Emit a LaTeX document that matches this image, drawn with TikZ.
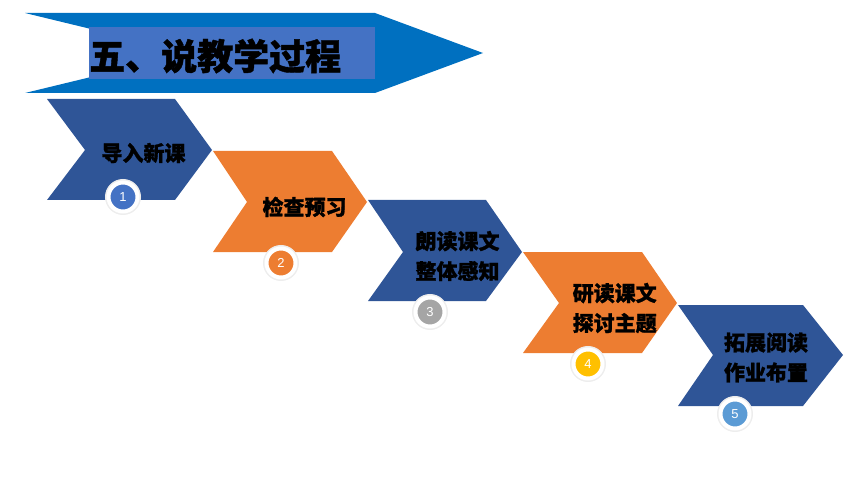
\documentclass[tikz,border=0pt]{standalone}
\usepackage{fontspec}
\newfontfamily\cjk{Noto Sans CJK SC}[BoldFeatures={FakeBold=1.2}]
\setsansfont{Liberation Sans}
\definecolor{banner}{HTML}{0070C0}
\definecolor{titlebox}{HTML}{4472C4}
\definecolor{cblue}{HTML}{2F5597}
\definecolor{corange}{HTML}{ED7D31}
\definecolor{cgray}{HTML}{A5A5A5}
\definecolor{cgold}{HTML}{FFC000}
\definecolor{clight}{HTML}{5B9BD5}
\begin{document}
\begin{tikzpicture}[x=1pt,y=-1pt,
  steptext/.style={font=\cjk\bfseries\fontsize{21}{30}\selectfont, align=center, inner sep=0pt, text=black},
  numcirc/.style={circle, minimum size=29pt, inner sep=0pt, draw=white, line width=4pt,
     preaction={draw=black!7, line width=7pt},
     text=white, font=\sffamily\fontsize{13}{13}\selectfont}]
\useasboundingbox (0,0) rectangle (860,484);
% banner
\fill[banner] (25,13) -- (375,13) -- (483,53) -- (375,93) -- (25,93) -- (190,53) -- cycle;
\fill[titlebox] (89,27) rectangle (375,79);
\node[anchor=west, inner sep=0pt, font=\cjk\bfseries\fontsize{36}{36}\selectfont] (title) at (89,56) {五、说教学过程};
% chevrons
\fill[cblue] (47,99) -- (175,99) -- (212,150) -- (175,200) -- (47,200) -- (85,150) -- cycle;
\fill[corange] (213,151) -- (332,151) -- (367,202) -- (332,252) -- (213,252) -- (247,202) -- cycle;
\fill[cblue] (368,200) -- (486,200) -- (522,252) -- (486,301) -- (368,301) -- (403,252) -- cycle;
\fill[corange] (523,252) -- (642,252) -- (677,303) -- (642,353) -- (523,353) -- (559,303) -- cycle;
\fill[cblue] (678,305) -- (803,305) -- (843,355) -- (803,406) -- (678,406) -- (713,355) -- cycle;
% texts
\node[steptext] (t1) at (143.5,153) {导入新课};
\node[steptext] (t2) at (304.5,207) {检查预习};
\node[steptext] (t3) at (457.5,256) {朗读课文\\整体感知};
\node[steptext] (t4) at (614.7,308) {研读课文\\探讨主题};
\node[steptext] (t5) at (766,357.5) {拓展阅读\\作业布置};
% numbers
\node[numcirc, fill=titlebox] (n1) at (123,197) {1};
\node[numcirc, fill=corange] (n2) at (281,263) {2};
\node[numcirc, fill=cgray] (n3) at (430,312) {3};
\node[numcirc, fill=cgold] (n4) at (588,364) {4};
\node[numcirc, fill=clight] (n5) at (735,414) {5};
\end{tikzpicture}
\end{document}
